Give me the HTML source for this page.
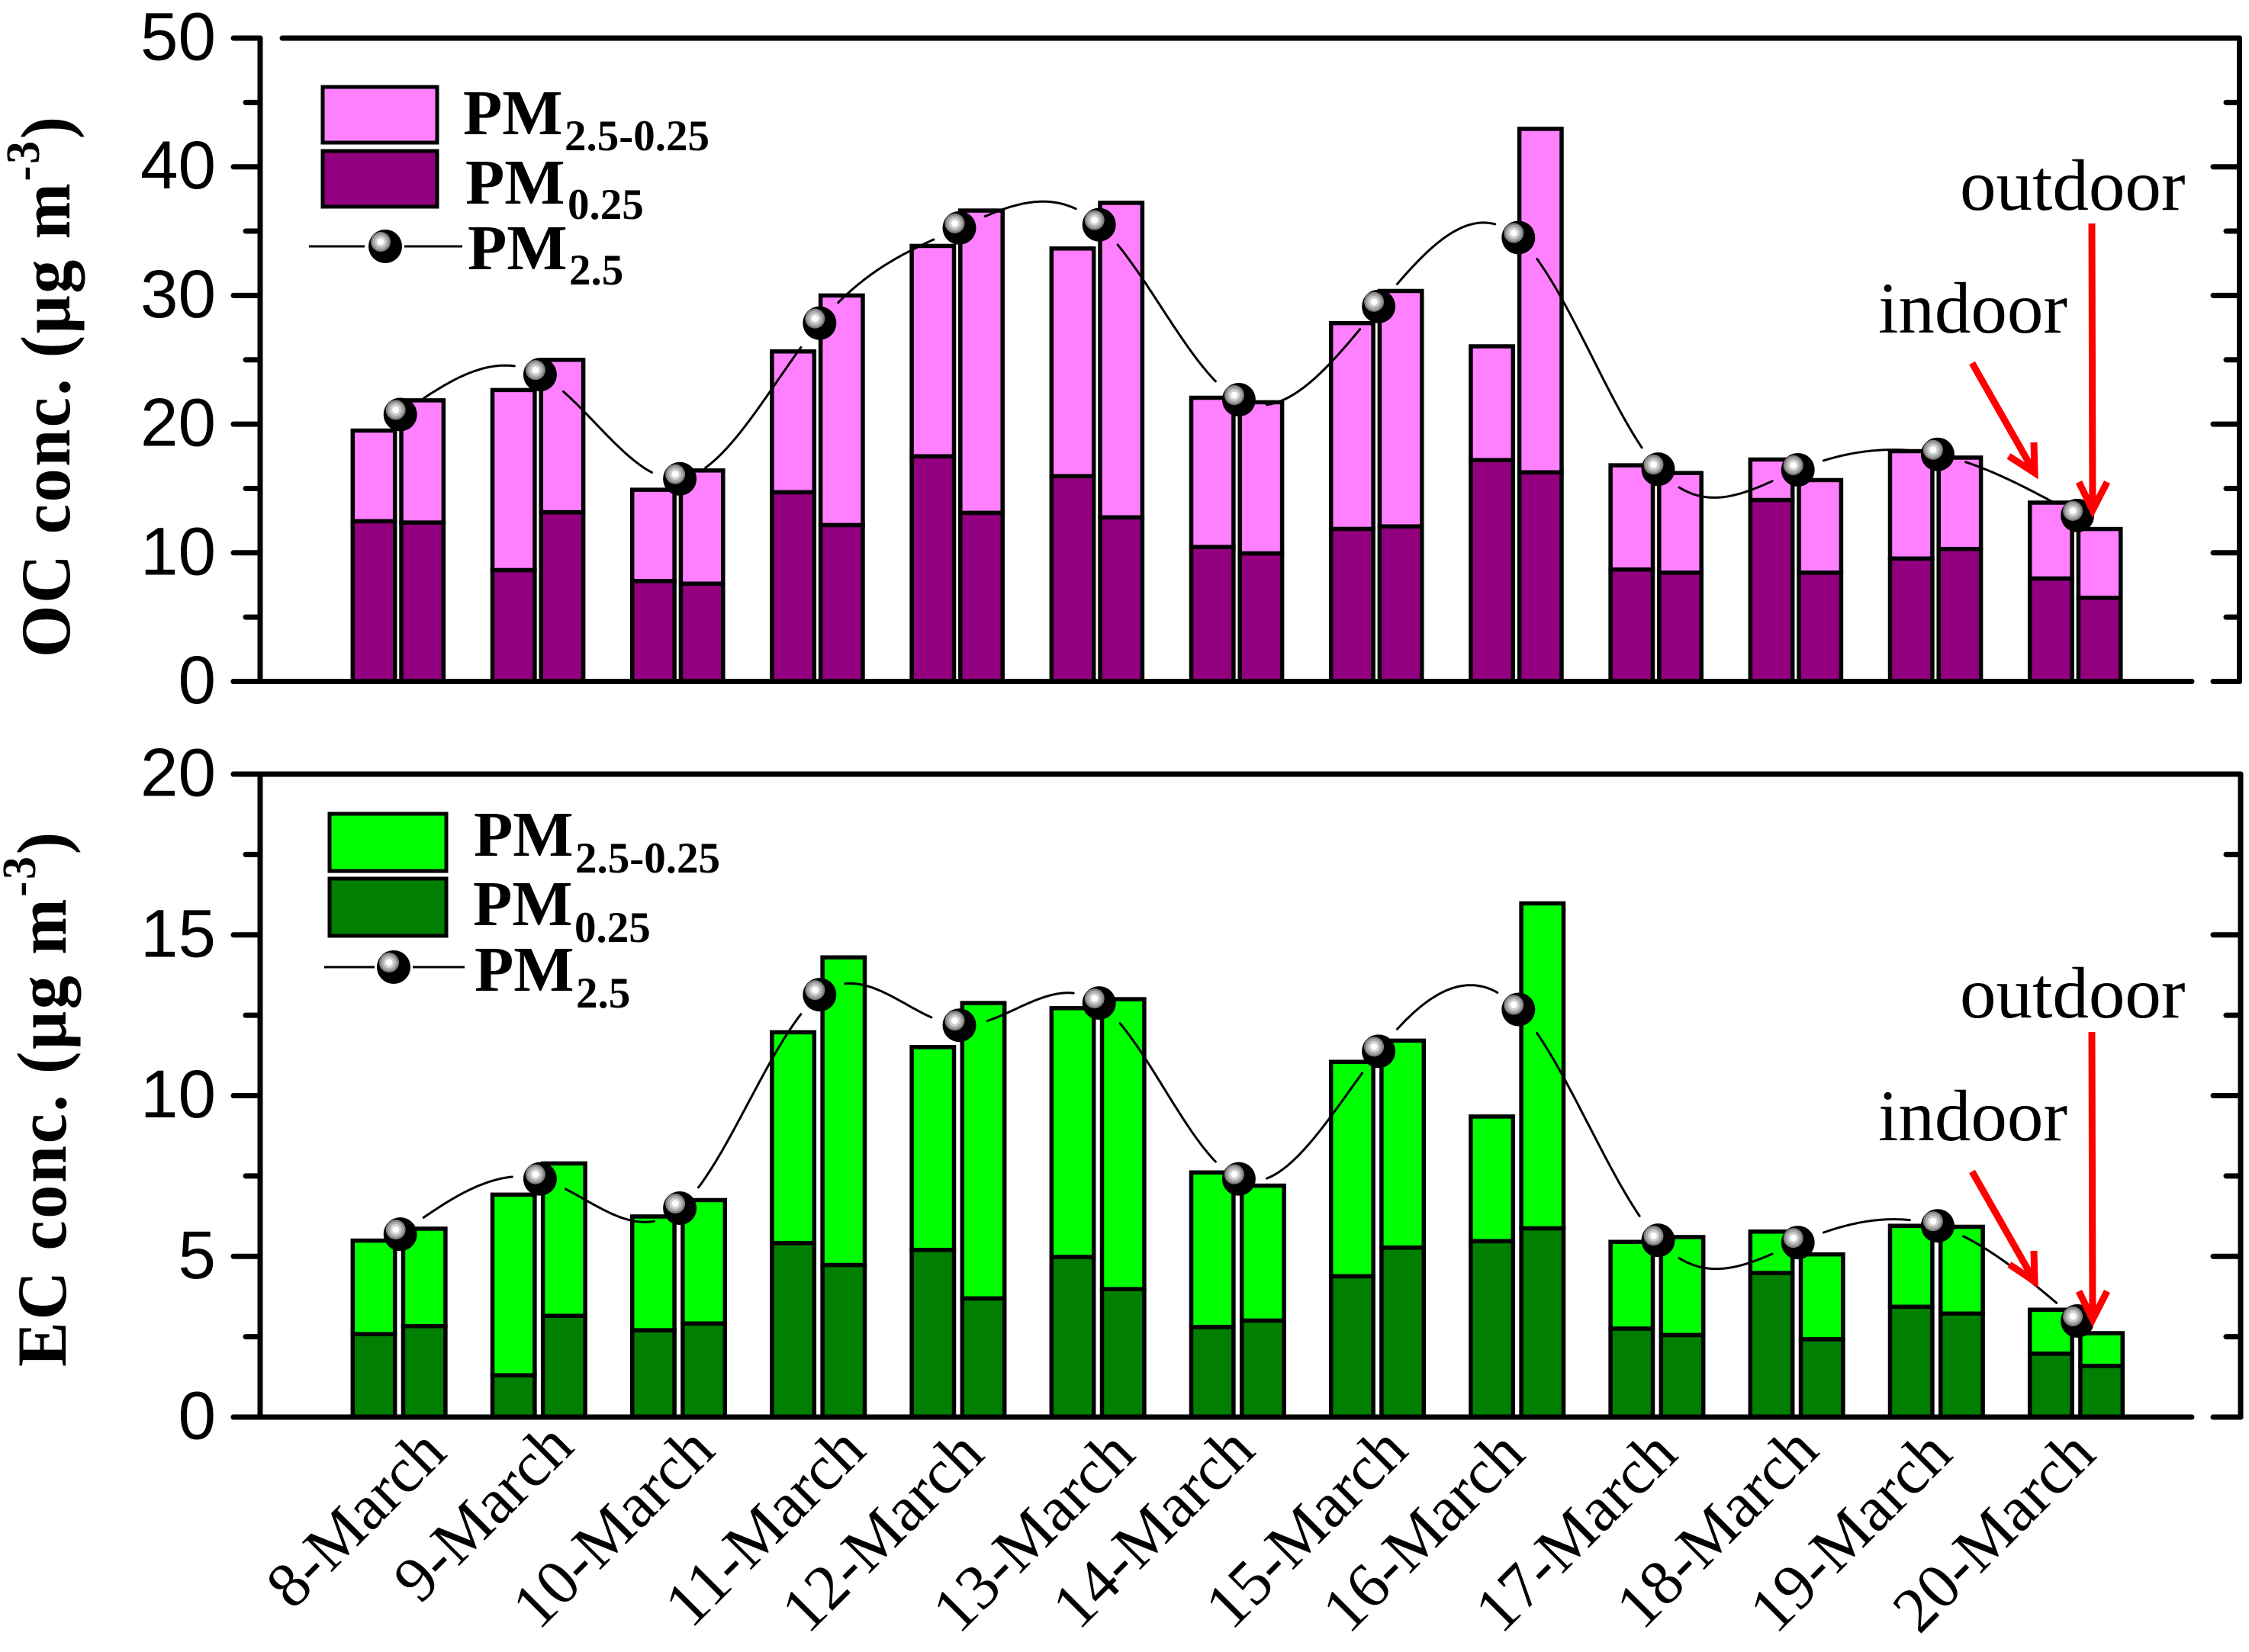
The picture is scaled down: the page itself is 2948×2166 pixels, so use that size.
<!DOCTYPE html>
<html lang="en">
<head>
<meta charset="utf-8">
<title>OC and EC concentrations, indoor and outdoor</title>
<style>
  html, body { margin: 0; padding: 0; background: #fff; }
  svg { display: block; }
  .tick-label { font-family: "Liberation Sans", sans-serif; font-size: 89px; fill: #000; text-anchor: end; }
  .serif { font-family: "Liberation Serif", serif; fill: #000; }
  .pm { font-size: 84px; font-weight: bold; }
  .sub { font-size: 57px; font-weight: bold; }
  .title { font-size: 88px; font-weight: bold; }
  .sup { font-size: 60px; }
  .note { font-size: 95px; }
  .cat { font-size: 84px; text-anchor: end; }
</style>
</head>
<body>
<svg id="chart" xmlns="http://www.w3.org/2000/svg" width="2948" height="2166" viewBox="0 0 2948 2166">
  <rect x="0" y="0" width="2948" height="2166" fill="#fff"/>
  <g id="top-panel"></g>
  <g id="bottom-panel"></g>
  <g id="category-labels"></g>

  <text class="serif title" transform="translate(91,862) rotate(-90) scale(1,1.05)" textLength="709" lengthAdjust="spacing">OC conc. (μg m<tspan class="sup" dy="-38">-3</tspan><tspan dy="38">)</tspan></text>
  <text class="serif title" transform="translate(86,1792) rotate(-90) scale(1,1.05)" textLength="701" lengthAdjust="spacing">EC conc. (μg m<tspan class="sup" dy="-38">-3</tspan><tspan dy="38">)</tspan></text>

  <g>
    <rect x="423" y="114" width="150" height="73" fill="#FF80FF" stroke="#000" stroke-width="5"/>
    <rect x="423" y="198" width="150" height="73" fill="#93007F" stroke="#000" stroke-width="5"/>
    <line x1="405" y1="323" x2="478" y2="323" stroke="#000" stroke-width="3"/>
    <line x1="530" y1="323" x2="606" y2="323" stroke="#000" stroke-width="3"/>
    <g transform="translate(505,323)">
      <circle r="22" fill="#000"/><circle cx="-6" cy="-6" r="13" fill="#808080"/><circle cx="-6" cy="-6" r="10.5" fill="#aaa"/><circle cx="-6" cy="-6" r="7.5" fill="#d0d0d0"/><circle cx="-6" cy="-6" r="4.5" fill="#fff"/>
    </g>
    <text class="serif pm" x="607" y="176">PM</text>
    <text class="serif sub" x="740" y="197">2.5-0.25</text>
    <text class="serif pm" x="610" y="267">PM</text>
    <text class="serif sub" x="744" y="287">0.25</text>
    <text class="serif pm" x="613" y="353">PM</text>
    <text class="serif sub" x="746" y="373">2.5</text>
  </g>

  <g>
    <rect x="432" y="1067" width="153" height="75" fill="#00FF00" stroke="#000" stroke-width="5"/>
    <rect x="432" y="1152" width="153" height="75" fill="#007F00" stroke="#000" stroke-width="5"/>
    <line x1="425" y1="1268" x2="491" y2="1268" stroke="#000" stroke-width="3"/>
    <line x1="541" y1="1268" x2="609" y2="1268" stroke="#000" stroke-width="3"/>
    <g transform="translate(516,1268)">
      <circle r="22" fill="#000"/><circle cx="-6" cy="-6" r="13" fill="#808080"/><circle cx="-6" cy="-6" r="10.5" fill="#aaa"/><circle cx="-6" cy="-6" r="7.5" fill="#d0d0d0"/><circle cx="-6" cy="-6" r="4.5" fill="#fff"/>
    </g>
    <text class="serif pm" x="621" y="1122">PM</text>
    <text class="serif sub" x="754" y="1144">2.5-0.25</text>
    <text class="serif pm" x="620" y="1213">PM</text>
    <text class="serif sub" x="753" y="1235">0.25</text>
    <text class="serif pm" x="622" y="1299">PM</text>
    <text class="serif sub" x="755" y="1321">2.5</text>
  </g>

  <g>
    <text class="serif note" x="2569" y="275">outdoor</text>
    <text class="serif note" x="2462" y="436">indoor</text>
    <path d="M2742 293 L2743 669 M2725 632 L2743 669 L2762 632" fill="none" stroke="#f00" stroke-width="9"/>
    <path d="M2585 476 L2667 620 M2633 598 L2667 620 L2666 580" fill="none" stroke="#f00" stroke-width="9"/>
  </g>
  <g>
    <text class="serif note" x="2569" y="1334">outdoor</text>
    <text class="serif note" x="2462" y="1495">indoor</text>
    <path d="M2742 1353 L2743 1730 M2725 1693 L2743 1730 L2762 1693" fill="none" stroke="#f00" stroke-width="9"/>
    <path d="M2585 1536 L2667 1680 M2634 1658 L2667 1680 L2666 1640" fill="none" stroke="#f00" stroke-width="9"/>
  </g>
</svg>

<script>
// ---- chart data ----
const categories = ['8-March','9-March','10-March','11-March','12-March','13-March','14-March','15-March','16-March','17-March','18-March','19-March','20-March'];

const ocIndoorFine   = [12.45, 8.65, 7.8, 14.7, 17.5, 15.95, 10.45, 11.85, 17.2, 8.7, 14.1, 9.55, 8.0];
const ocIndoorTotal  = [19.5, 22.65, 14.9, 25.65, 33.85, 33.65, 22.05, 27.85, 26.05, 16.8, 17.25, 17.9, 13.9];
const ocOutdoorFine  = [12.35, 13.15, 7.6, 12.15, 13.1, 12.75, 9.95, 12.05, 16.25, 8.45, 8.45, 10.3, 6.5];
const ocOutdoorTotal = [21.85, 25.0, 16.4, 30.0, 36.6, 37.2, 21.7, 30.35, 42.95, 16.2, 15.65, 17.4, 11.85];
const ocPm25         = [20.75, 23.85, 15.75, 27.85, 35.25, 35.5, 21.9, 29.15, 34.5, 16.5, 16.45, 17.65, 12.9];
const ocMajorTicks   = [0, 10, 20, 30, 40, 50];
const ocMinorTicks   = [5, 15, 25, 35, 45];

const ecIndoorFine   = [2.58, 1.3, 2.7, 5.41, 5.2, 4.98, 2.8, 4.38, 5.47, 2.75, 4.48, 3.43, 1.97];
const ecIndoorTotal  = [5.49, 6.92, 6.24, 11.97, 11.51, 12.72, 7.61, 11.05, 9.35, 5.45, 5.77, 5.95, 3.34];
const ecOutdoorFine  = [2.83, 3.15, 2.91, 4.73, 3.69, 3.98, 3.0, 5.27, 5.87, 2.55, 2.42, 3.22, 1.59];
const ecOutdoorTotal = [5.86, 7.89, 6.75, 14.3, 12.88, 13.0, 7.2, 11.71, 15.98, 5.6, 5.06, 5.92, 2.61];
const ecPm25         = [5.69, 7.41, 6.5, 13.14, 12.19, 12.88, 7.41, 11.38, 12.68, 5.5, 5.43, 5.95, 2.99];
const ecMajorTicks   = [0, 5, 10, 15, 20];
const ecMinorTicks   = [2.5, 7.5, 12.5, 17.5];

// ---- layout (hand-placed label offsets from the category centre, not data) ----
const labelShiftX = [63.3, 47, 49, 63.4, 35.5, 50.3, 24, 41.3, 11.7, 28.5, 30.3, 22, 26.9];
const labelBaseY  = [1908, 1900, 1905, 1905, 1910, 1910, 1905, 1905, 1910, 1910, 1905, 1910, 1910];

const SVG_NS = 'http://www.w3.org/2000/svg';
const groupX = i => 524.7 + 183.2 * i;

function mk(parent, tag, attrs, text) {
  const el = document.createElementNS(SVG_NS, tag);
  for (const k in attrs) el.setAttribute(k, attrs[k]);
  if (text !== undefined) el.textContent = text;
  parent.appendChild(el);
  return el;
}

// natural cubic spline through pixel points; returns a function of x for each interval
function naturalSpline(xs, ys) {
  const n = xs.length, h = [], a = [], l = [1], mu = [0], z = [0], c = new Array(n).fill(0), b = [], d = [];
  for (let i = 0; i < n - 1; i++) h[i] = xs[i + 1] - xs[i];
  for (let i = 1; i < n - 1; i++) a[i] = 3 * (ys[i + 1] - ys[i]) / h[i] - 3 * (ys[i] - ys[i - 1]) / h[i - 1];
  for (let i = 1; i < n - 1; i++) {
    l[i] = 2 * (xs[i + 1] - xs[i - 1]) - h[i - 1] * mu[i - 1];
    mu[i] = h[i] / l[i];
    z[i] = (a[i] - h[i - 1] * z[i - 1]) / l[i];
  }
  for (let j = n - 2; j >= 0; j--) {
    c[j] = z[j] - mu[j] * c[j + 1];
    b[j] = (ys[j + 1] - ys[j]) / h[j] - h[j] * (c[j + 1] + 2 * c[j]) / 3;
    d[j] = (c[j + 1] - c[j]) / (3 * h[j]);
  }
  return (i, x) => {
    const t = x - xs[i];
    return ys[i] + b[i] * t + c[i] * t * t + d[i] * t * t * t;
  };
}

function drawPanel(cfg) {
  const g = document.getElementById(cfg.id);
  const y = v => cfg.y0 - (v - 0) * cfg.pxPerUnit;
  const barW = 55.4;

  // bars
  const bars = mk(g, 'g', {});
  
  
  categories.forEach((cat, i) => {
    const xIn = groupX(i) - 34.7, xOut = groupX(i) - 34.7 + cfg.pairGap;
    [[xIn, cfg.indoorFine[i], cfg.indoorTotal[i], 'indoor'], [xOut, cfg.outdoorFine[i], cfg.outdoorTotal[i], 'outdoor']].forEach(b => {
      const top = mk(bars, 'rect', { x: b[0] - barW / 2, y: y(b[2]), width: barW, height: y(b[1]) - y(b[2]), fill: cfg.light, stroke: '#000', 'stroke-width': 5.5 });
      
      
      const low = mk(bars, 'rect', { x: b[0] - barW / 2, y: y(b[1]), width: barW, height: y(0) - y(b[1]), fill: cfg.dark, stroke: '#000', 'stroke-width': 5.5 });
      
      
    });
  });

  // axes
  const axes = mk(g, 'g', { stroke: '#000', 'stroke-width': 7, 'stroke-linecap': 'round', fill: 'none' });
  
  
  const yTop = y(cfg.majors[cfg.majors.length - 1]), yBot = y(0);

  const leftAxis = mk(axes, 'line', { x1: 341, y1: yTop, x2: 341, y2: yBot });
  
  
  const rightAxis = mk(axes, 'line', { x1: cfg.rightX, y1: yTop, x2: cfg.rightX, y2: yBot });
  
  
  const topAxis = mk(axes, 'line', { x1: cfg.topStart, y1: yTop, x2: cfg.rightX, y2: yTop });
  
  
  const bottomAxis = mk(axes, 'line', { x1: 306, y1: yBot, x2: 2873, y2: yBot });
  
  

  cfg.majors.forEach(v => {
    const left = mk(axes, 'line', { x1: 306, y1: y(v), x2: 341, y2: y(v) });
    
    
    const right = mk(axes, 'line', { x1: 2901, y1: y(v), x2: cfg.rightX, y2: y(v) });
    
    
    const label = mk(g, 'text', { class: 'tick-label', x: 283, y: y(v) + 28.5 }, String(v));
    
    
  });
  cfg.minors.forEach(v => {
    const left = mk(axes, 'line', { x1: 322, y1: y(v), x2: 341, y2: y(v) });
    
    
    const right = mk(axes, 'line', { x1: 2918, y1: y(v), x2: cfg.rightX, y2: y(v) });
    
    
  });

  // PM2.5 spline with gaps around the symbols
  const xs = categories.map((c, i) => groupX(i));
  const ys = cfg.line.map(y);
  const f = naturalSpline(xs, ys);
  const gap = 35;
  let d = '';
  for (let i = 0; i < xs.length - 1; i++) {
    let pen = false;
    for (let s = 0; s <= 60; s++) {
      const px = xs[i] + (xs[i + 1] - xs[i]) * s / 60;
      const py = f(i, px);
      const near = Math.hypot(px - xs[i], py - ys[i]) < gap || Math.hypot(px - xs[i + 1], py - ys[i + 1]) < gap;
      if (near) { pen = false; continue; }
      d += (pen ? 'L' : 'M') + px.toFixed(1) + ' ' + py.toFixed(1);
      pen = true;
    }
  }
  const linePath = mk(g, 'path', { d: d, fill: 'none', stroke: '#000', 'stroke-width': 3, 'stroke-linecap': 'round' });
  
  

  // PM2.5 symbols
  cfg.line.forEach((v, i) => {
    const m = mk(g, 'g', { transform: 'translate(' + groupX(i) + ',' + y(v) + ')' });
    
    
    mk(m, 'circle', { r: 22, fill: '#000' });
    mk(m, 'circle', { cx: -6, cy: -6, r: 13, fill: '#808080' });
    mk(m, 'circle', { cx: -6, cy: -6, r: 10.5, fill: '#aaa' });
    mk(m, 'circle', { cx: -6, cy: -6, r: 7.5, fill: '#d0d0d0' });
    mk(m, 'circle', { cx: -6, cy: -6, r: 4.5, fill: '#fff' });
  });
}

drawPanel({
  id: 'top-panel', prefix: 'oc', y0: 893.5, pxPerUnit: 16.87, rightX: 2935.5, topStart: 370, pairGap: 63.7,
  light: '#FF80FF', dark: '#93007F',
  indoorFine: ocIndoorFine, indoorTotal: ocIndoorTotal, outdoorFine: ocOutdoorFine, outdoorTotal: ocOutdoorTotal,
  line: ocPm25, majors: ocMajorTicks, minors: ocMinorTicks
});
drawPanel({
  id: 'bottom-panel', prefix: 'ec', y0: 1858, pxPerUnit: 42.15, rightX: 2937, topStart: 306, pairGap: 66.2,
  light: '#00FF00', dark: '#007F00',
  indoorFine: ecIndoorFine, indoorTotal: ecIndoorTotal, outdoorFine: ecOutdoorFine, outdoorTotal: ecOutdoorTotal,
  line: ecPm25, majors: ecMajorTicks, minors: ecMinorTicks
});

const labelLayer = document.getElementById('category-labels');
categories.forEach((cat, i) => {
  const tx = groupX(i) + labelShiftX[i];
  const label = mk(labelLayer, 'text', { class: 'serif cat', transform: 'translate(' + tx + ',' + labelBaseY[i] + ') rotate(-45)' }, cat);
  
  
});
</script>
</body>
</html>
